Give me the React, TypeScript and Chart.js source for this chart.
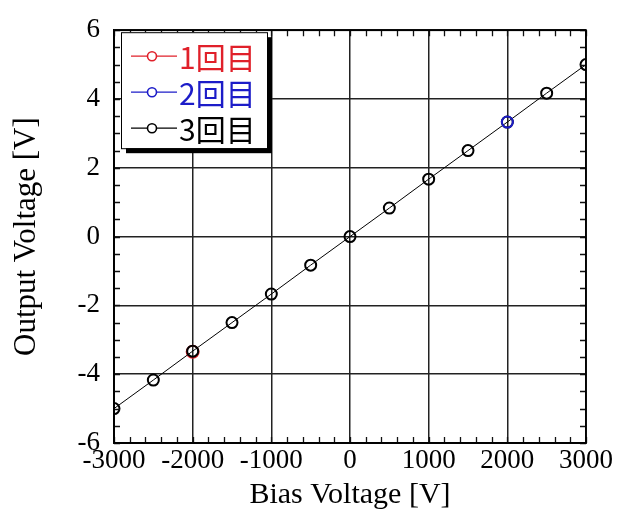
import React, { useEffect, useRef } from "react";
import { Chart, registerables } from "chart.js";

Chart.register(...registerables);

// Bias voltage settings [V]
const biasVoltage = [-3000, -2500, -2000, -1500, -1000, -500, 0, 500, 1000, 1500, 2000, 2500, 3000];
// Output voltage of the third run [V]
const run3Output = [-5.0, -4.17, -3.33, -2.5, -1.67, -0.83, 0, 0.83, 1.67, 2.5, 3.33, 4.17, 5.0];
// Points of runs 1 and 2 that differ visibly from run 3
const run1Bias = [-2000];
const run1Output = [-3.35];
const run2Bias = [2000];
const run2Output = [3.33];

const seriesNames = ["1回目", "2回目", "3回目"];
const seriesColors = ["#e0202a", "#1c1cc8", "#000000"];

const serif = "'Liberation Serif', 'Times New Roman', serif";

const toPoints = (xs: number[], ys: number[]) => xs.map((x, i) => ({ x, y: ys[i] }));

// Inward minor ticks on all four edges plus the closed frame
const frameTicks = {
  id: "frameTicks",
  afterDatasetsDraw(chart: any) {
    const { ctx, chartArea: a, scales } = chart;
    const xs = scales.x;
    const ys = scales.y;
    const len = 6;
    ctx.save();
    ctx.strokeStyle = "#111";
    ctx.lineWidth = 1.3;
    ctx.beginPath();
    for (let v = -3000; v <= 3000; v += 200) {
      const px = Math.round(xs.getPixelForValue(v)) + 0.5;
      ctx.moveTo(px, a.bottom);
      ctx.lineTo(px, a.bottom - len);
      ctx.moveTo(px, a.top);
      ctx.lineTo(px, a.top + len);
    }
    for (let k = -12; k <= 12; k++) {
      const py = Math.round(ys.getPixelForValue(k * 0.5)) + 0.5;
      ctx.moveTo(a.left, py);
      ctx.lineTo(a.left + len, py);
      ctx.moveTo(a.right, py);
      ctx.lineTo(a.right - len, py);
    }
    ctx.stroke();
    ctx.lineWidth = 1.8;
    ctx.strokeStyle = "#000";
    ctx.strokeRect(a.left, a.top, a.right - a.left, a.bottom - a.top);
    ctx.restore();
  },
};

// Boxed legend with a drop shadow in the upper-left corner of the plot
const boxLegend = {
  id: "boxLegend",
  afterDraw(chart: any) {
    const { ctx, chartArea: a } = chart;
    const x0 = a.left + 7;
    const y0 = a.top + 2;
    const w = 146;
    const h = 116;
    ctx.save();
    ctx.fillStyle = "#000";
    ctx.fillRect(x0 + 5, y0 + 5, w, h);
    ctx.fillStyle = "#fff";
    ctx.fillRect(x0, y0, w, h);
    ctx.strokeStyle = "#000";
    ctx.lineWidth = 1;
    ctx.strokeRect(x0 + 0.5, y0 + 0.5, w, h);
    ctx.font = "30px 'Noto Sans CJK JP', sans-serif";
    ctx.textBaseline = "middle";
    ctx.textAlign = "left";
    seriesNames.forEach((name, i) => {
      const cy = y0 + 24 + i * 36;
      const color = seriesColors[i];
      ctx.strokeStyle = color;
      ctx.lineWidth = 1.3;
      ctx.beginPath();
      ctx.moveTo(x0 + 10, cy);
      ctx.lineTo(x0 + 56, cy);
      ctx.stroke();
      ctx.fillStyle = "#fff";
      ctx.lineWidth = 1.6;
      ctx.beginPath();
      ctx.arc(x0 + 31, cy, 4.5, 0, Math.PI * 2);
      ctx.fill();
      ctx.stroke();
      ctx.fillStyle = color;
      ctx.fillText(name, x0 + 58, cy + 1);
    });
    ctx.restore();
  },
};

export default function App() {
  const canvasRef = useRef<HTMLCanvasElement | null>(null);

  useEffect(() => {
    document.body.style.margin = "0";
    const canvas = canvasRef.current;
    if (!canvas) return;

    const pointStyle = (color: string, radius: number) => ({
      borderColor: color,
      backgroundColor: "rgba(255,255,255,0)",
      pointBorderColor: color,
      pointBackgroundColor: "rgba(255,255,255,0)",
      pointRadius: radius,
      pointBorderWidth: 2,
      borderWidth: 1,
      showLine: true,
      tension: 0,
    });

    const chart = new Chart(canvas, {
      type: "scatter",
      data: {
        datasets: [
          { label: seriesNames[1], data: toPoints(run2Bias, run2Output), order: 1, ...pointStyle(seriesColors[1], 5.5) },
          { label: seriesNames[2], data: toPoints(biasVoltage, run3Output), order: 2, ...pointStyle(seriesColors[2], 5.5) },
          { label: seriesNames[0], data: toPoints(run1Bias, run1Output), order: 3, ...pointStyle(seriesColors[0], 6) },
        ],
      },
      options: {
        responsive: false,
        animation: false,
        layout: { padding: { top: 27, right: 31, left: 0, bottom: 0 } },
        plugins: {
          legend: { display: false },
          tooltip: { enabled: false },
        },
        scales: {
          x: {
            type: "linear",
            min: -3000,
            max: 3000,
            afterFit: (s: any) => {
              s.height = 71;
            },
            ticks: {
              stepSize: 1000,
              maxRotation: 0,
              minRotation: 0,
              autoSkip: false,
              padding: 2,
              color: "#000",
              font: { family: serif, size: 27 },
              callback: (v: any) => String(v),
            },
            grid: { color: "#222", lineWidth: 1.5, drawTicks: false },
            border: { color: "#000", width: 1.8 },
            title: {
              display: true,
              text: "Bias Voltage [V]",
              color: "#000",
              font: { family: serif, size: 30 },
              padding: { top: 0, bottom: 1 },
            },
          },
          y: {
            type: "linear",
            min: -6,
            max: 6,
            afterFit: (s: any) => {
              s.width = 114;
            },
            ticks: {
              stepSize: 2,
              padding: 14,
              color: "#000",
              font: { family: serif, size: 27 },
              callback: (v: any) => String(v),
            },
            grid: { color: "#222", lineWidth: 1.5, drawTicks: false },
            border: { color: "#000", width: 1.8 },
            title: {
              display: true,
              text: "Output Voltage [V]",
              color: "#000",
              font: { family: serif, size: 31 },
              padding: { top: 8, bottom: 0 },
            },
          },
        },
      },
      plugins: [frameTicks, boxLegend],
    } as any);

    return () => chart.destroy();
  }, []);

  return (
    <div style={{ width: 617, height: 514, background: "#fff" }}>
      <canvas ref={canvasRef} width={617} height={514} style={{ display: "block" }} />
    </div>
  );
}
